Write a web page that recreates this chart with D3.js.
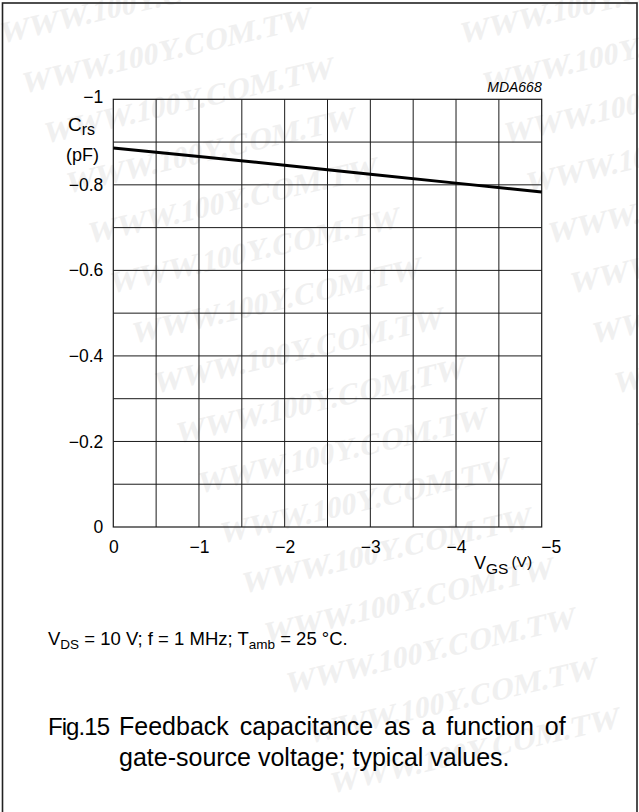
<!DOCTYPE html>
<html><head><meta charset="utf-8">
<script src="https://cdn.jsdelivr.net/npm/d3@7"></script>
<style>html,body{margin:0;padding:0;background:#fff;}svg{display:block;}</style>
</head><body>
<svg id="c" width="639" height="812"></svg>
<script>
const vgs = [0, -1, -2, -3, -4, -5];
const crs = [-0.886, -0.866, -0.846, -0.825, -0.804, -0.783];
const xTicks = [0, -1, -2, -3, -4, -5];
const yTicks = [0, -0.2, -0.4, -0.6, -0.8, -1];
const xGrid = [-0.5, -1, -1.5, -2, -2.5, -3, -3.5, -4, -4.5];
const yGrid = [-0.1, -0.2, -0.3, -0.4, -0.5, -0.6, -0.7, -0.8, -0.9];
const watermark = "WWW.100Y.COM.TW";

const svg = d3.select("#c");
const font = "'Liberation Sans', Arial, Helvetica, sans-serif";

// watermark layer
const wm = svg.append("g").attr("fill", "#f0f0f0").attr("font-family", "'Liberation Serif', 'Times New Roman', serif")
  .attr("font-weight", "bold").attr("font-size", 30);
[0, 460].forEach(ox => {
  for (let i = 0; i < 16; i++) {
    const x = ox + 22 * i, y = 44 + 50 * i;
    wm.append("text").attr("transform", `translate(${x},${y}) rotate(-13) skewX(-15)`).text(watermark);
  }
});

// frame
svg.append("rect").attr("x", 2.5).attr("y", 3).attr("width", 634.5).attr("height", 840)
  .attr("fill", "none").attr("stroke", "#222").attr("stroke-width", 1.6);

const L = 113.3, R = 541.7, T = 99.3, B = 527;
const x = d3.scaleLinear().domain([0, -5]).range([L, R]);
const y = d3.scaleLinear().domain([0, -1]).range([B, T]);

const g = svg.append("g");
g.selectAll("line.vx").data(xGrid).join("line")
  .attr("x1", d => x(d)).attr("x2", d => x(d)).attr("y1", T).attr("y2", B)
  .attr("stroke", "#1a1a1a").attr("stroke-width", 1);
g.selectAll("line.hy").data(yGrid).join("line")
  .attr("y1", d => y(d)).attr("y2", d => y(d)).attr("x1", L).attr("x2", R)
  .attr("stroke", "#1a1a1a").attr("stroke-width", 1);
g.append("rect").attr("x", L).attr("y", T).attr("width", R - L).attr("height", B - T)
  .attr("fill", "none").attr("stroke", "#1a1a1a").attr("stroke-width", 1.2);

// axes via d3 (domain/ticks hidden, labels kept)
const fmt = d => d === 0 ? "0" : "\u2212" + d3.format("")(Math.abs(d));
const xa = svg.append("g").attr("transform", `translate(0,${B})`)
  .call(d3.axisBottom(x).tickValues(xTicks).tickSize(0).tickPadding(14).tickFormat(fmt));
const ya = svg.append("g").attr("transform", `translate(${L},0)`)
  .call(d3.axisLeft(y).tickValues(yTicks).tickSize(0).tickPadding(10).tickFormat(fmt));
[xa, ya].forEach(a => {
  a.select(".domain").remove();
  a.selectAll("text").attr("font-family", font).attr("font-size", 17.5).attr("fill", "#000");
});
xa.selectAll(".tick").filter(d => d === -5).select("text").attr("text-anchor", "start").attr("dx", -1);
ya.selectAll(".tick").filter(d => d === -1).select("text").attr("dy", "0.2em");

// curve
const line = d3.line().x((d, i) => x(vgs[i])).y(d => y(d));
svg.append("path").datum(crs).attr("d", line).attr("fill", "none")
  .attr("stroke", "#000").attr("stroke-width", 3);

// labels
const t = (xx, yy, size) => svg.append("text").attr("x", xx).attr("y", yy)
  .attr("font-family", font).attr("font-size", size).attr("fill", "#000");

const cl = t(68, 131, 19);
cl.append("tspan").text("C");
cl.append("tspan").attr("font-size", 16).attr("dy", 4).text("rs");
t(66, 161, 18).text("(pF)");

t(541.7, 92, 14).attr("text-anchor", "end").attr("font-style", "italic").text("MDA668");

const xl = t(474, 569, 18);
xl.append("tspan").text("V");
xl.append("tspan").attr("font-size", 15.5).attr("dy", 5).text("GS");
xl.append("tspan").attr("font-size", 15.5).attr("dy", -7).attr("dx", 3).text("(V)");

const fn = t(48, 645, 18.5);
fn.append("tspan").text("V");
fn.append("tspan").attr("font-size", 13.5).attr("dy", 4).text("DS");
fn.append("tspan").attr("dy", -4).text(" = 10 V; f = 1 MHz; T");
fn.append("tspan").attr("font-size", 13.5).attr("dy", 4).text("amb");
fn.append("tspan").attr("dy", -4).text(" = 25 \u00B0C.");

t(48, 735, 24).attr("textLength", 62).attr("lengthAdjust", "spacing").text("Fig.15");
t(119, 735, 25).attr("word-spacing", 4).text("Feedback capacitance as a function of");
t(119, 766, 25).text("gate-source voltage; typical values.");
</script>
</body></html>
